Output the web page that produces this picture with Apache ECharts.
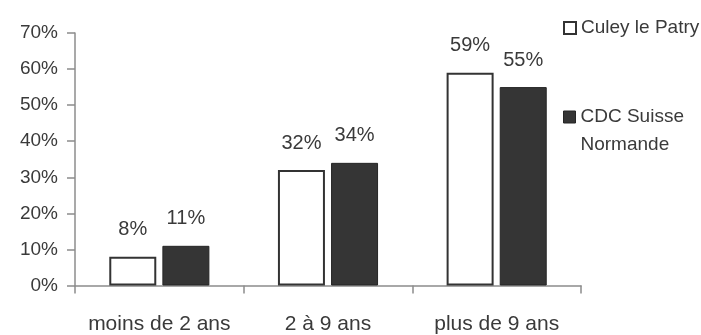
<!DOCTYPE html>
<html>
<head>
<meta charset="utf-8">
<script src="https://cdn.jsdelivr.net/npm/echarts@6/dist/echarts.min.js"></script>
<style>
  html, body { margin: 0; padding: 0; background: #fff; }
  #chart { width: 701px; height: 335px; }
</style>
</head>
<body>
<div id="chart"></div>
<script>
// Ancienneté d'emménagement : Culey le Patry vs CDC Suisse Normande
const categories = ['moins de 2 ans', '2 à 9 ans', 'plus de 9 ans'];
const culeyValues = [8, 32, 59];
const cdcValues = [11, 34, 55];
const seriesNames = ['Culey le Patry', 'CDC Suisse Normande'];
const yTicks = [0, 10, 20, 30, 40, 50, 60, 70];

const FONT = '"Liberation Sans", Arial, sans-serif';
const TEXT = '#3a3a3a';
const AXIS = '#8c8c8c';

const labelStyle = {
  show: true,
  position: 'top',
  distance: 17,
  formatter: p => p.value + '%',
  fontFamily: FONT,
  fontSize: 20,
  lineHeight: 20,
  color: TEXT
};

const chart = echarts.init(document.getElementById('chart'), null, { renderer: 'canvas' });
chart.setOption({
  animation: false,
  backgroundColor: '#fff',
  grid: { left: 75, top: 33, width: 506, height: 254, containLabel: false },
  legend: [
    {
      data: [seriesNames[0]],
      orient: 'vertical',
      left: 563,
      top: 17,
      padding: 0,
      itemWidth: 12,
      itemHeight: 12,
      itemGap: 0,
      icon: 'rect',
      textStyle: { fontFamily: FONT, fontSize: 19, lineHeight: 22, color: TEXT },
      itemStyle: { color: '#fff', borderColor: '#333', borderWidth: 2 }
    },
    {
      data: [seriesNames[1]],
      orient: 'vertical',
      left: 563,
      top: 75,
      padding: 0,
      itemWidth: 12,
      itemHeight: 12,
      itemGap: 0,
      icon: 'rect',
      // leading blank line keeps the first text line level with the swatch
      formatter: () => '\nCDC Suisse\nNormande',
      textStyle: { fontFamily: FONT, fontSize: 19, lineHeight: 28, color: TEXT },
      itemStyle: { color: '#353535', borderColor: '#252525', borderWidth: 1 }
    }
  ],
  xAxis: {
    type: 'category',
    data: categories,
    boundaryGap: true,
    axisLine: { show: true, lineStyle: { color: AXIS, width: 1.5 } },
    axisTick: { show: true, interval: 0, inside: false, length: 8, alignWithLabel: false, lineStyle: { color: AXIS, width: 1.5 } },
    axisLabel: { interval: 0, hideOverlap: false, margin: 29, fontFamily: FONT, fontSize: 21, lineHeight: 20, color: TEXT },
    splitLine: { show: false }
  },
  yAxis: {
    type: 'value',
    min: yTicks[0],
    max: yTicks[yTicks.length - 1],
    interval: 10,
    axisLine: { show: true, lineStyle: { color: AXIS, width: 1.5 } },
    axisTick: { show: true, length: 8, lineStyle: { color: AXIS, width: 1.5 } },
    axisLabel: { margin: 17, formatter: v => v + '%', fontFamily: FONT, fontSize: 19, color: TEXT },
    splitLine: { show: false }
  },
  series: [
    {
      name: seriesNames[0],
      type: 'bar',
      data: culeyValues,
      barWidth: 47,
      barGap: '13%',
      itemStyle: { color: '#fff', borderColor: '#333', borderWidth: 2 },
      label: labelStyle
    },
    {
      name: seriesNames[1],
      type: 'bar',
      data: cdcValues,
      barWidth: 47,
      itemStyle: { color: '#353535', borderColor: '#252525', borderWidth: 1 },
      label: labelStyle
    }
  ]
});
</script>
</body>
</html>
